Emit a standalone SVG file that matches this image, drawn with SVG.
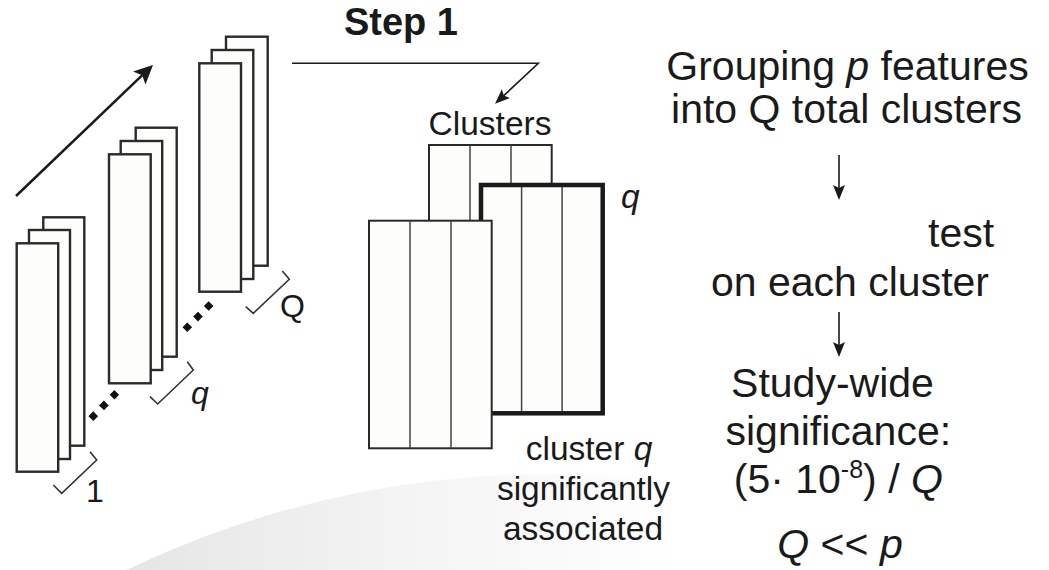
<svg xmlns="http://www.w3.org/2000/svg" width="1049" height="570" viewBox="0 0 1049 570">
  <style>
    .sheet { fill: #fdfdfb; stroke: #2a2a2a; stroke-width: 2.4; }
    .cell { fill: #fdfdfb; stroke: #2a2a2a; stroke-width: 2; }
    .cellq { fill: #fdfdfb; stroke: #1a1a1a; stroke-width: 4.5; }
    .div { stroke: #444; stroke-width: 1.5; fill: none; }
    .brace { fill: none; stroke: #333; stroke-width: 1.6; }
    .dots { fill: none; stroke: #111; stroke-width: 6.8; stroke-dasharray: 6.8 8.3; }
    .wire { fill: none; stroke: #1a1a1a; stroke-width: 1.6; }
    .wire-thick { fill: none; stroke: #1a1a1a; stroke-width: 2.5; }
    text { font-family: "Liberation Sans", Arial, Helvetica, sans-serif; fill: #1a1a1a; }
    .big { font-size: 41px; }
    .mid { font-size: 33.5px; }
    .lab { font-size: 32px; }
    .it { font-style: italic; }
    .title { font-size: 38px; font-weight: bold; }
  </style>
  <defs>
    <linearGradient id="haze" gradientUnits="userSpaceOnUse" x1="140" y1="0" x2="680" y2="0">
      <stop offset="0" stop-color="#e6e6e6"/>
      <stop offset="0.5" stop-color="#f4f4f4"/>
      <stop offset="1" stop-color="#ffffff"/>
    </linearGradient>
    <marker id="headBig" markerUnits="userSpaceOnUse" markerWidth="19" markerHeight="18" refX="10" refY="9" orient="auto">
      <path d="M0,0 L19,9 L0,18 L4,9 z" fill="#1a1a1a"/>
    </marker>
    <marker id="headSmall" markerUnits="userSpaceOnUse" markerWidth="15" markerHeight="12" refX="9" refY="6" orient="auto">
      <path d="M0,0 L15,6 L0,12 L3,6 z" fill="#1a1a1a"/>
    </marker>
  </defs>

  <!-- soft backdrop -->
  <circle cx="549" cy="1452" r="978" fill="url(#haze)"/>

  <!-- stack of feature sheets: first -->
  <g id="stack-1">
    <rect class="sheet" x="43.3" y="217.3" width="41" height="228.4"/>
    <rect class="sheet" x="29" y="230" width="41" height="229"/>
    <rect class="sheet" x="16.7" y="243.3" width="41.5" height="228.4"/>
    <path class="brace" d="M53.3,485 L61.7,493.3 L96.7,460 L90,451.7"/>
    <text class="lab" x="86" y="501.7">1</text>
  </g>

  <!-- stack q -->
  <g id="stack-q">
    <rect class="sheet" x="135.7" y="127.7" width="41" height="229"/>
    <rect class="sheet" x="120.7" y="141" width="41.5" height="229"/>
    <rect class="sheet" x="109" y="154.3" width="41.7" height="229"/>
    <path class="brace" d="M150,396.7 L157.7,404 L193.3,370 L187.3,361.7"/>
    <text class="lab it" x="191" y="404">q</text>
  </g>

  <!-- stack Q -->
  <g id="stack-Q">
    <rect class="sheet" x="226" y="36.7" width="41.7" height="229"/>
    <rect class="sheet" x="211.7" y="50" width="41.6" height="229"/>
    <rect class="sheet" x="199.3" y="63.3" width="41.7" height="228.4"/>
    <path class="brace" d="M245.7,306.7 L253.3,313.3 L289.3,279.3 L282.3,271"/>
    <text class="lab" x="280" y="316.7">Q</text>
  </g>

  <!-- ellipsis between stacks -->
  <g id="ellipses">
    <path class="dots" d="M90.9,418.6 L116.7,392.4"/>
    <path class="dots" d="M184.9,329.7 L211.4,303.2"/>
  </g>

  <!-- cluster sheets -->
  <g id="clusters">
    <text class="mid" x="490" y="135" text-anchor="middle">Clusters</text>
    <rect class="cell" x="429" y="145" width="122.7" height="160"/>
    <path class="div" d="M470,145 V305 M511,145 V305"/>
    <rect class="cellq" x="481" y="185" width="121.7" height="228.3"/>
    <path class="div" d="M521.6,187 V411 M562.1,187 V411"/>
    <rect class="cell" x="369" y="220.7" width="122.7" height="227.6"/>
    <path class="div" d="M410,220.7 V448.3 M451,220.7 V448.3"/>
    <text class="mid it" x="621" y="208">q</text>
  </g>

  <g id="note-cluster">
    <text class="mid" x="589" y="460" text-anchor="middle">cluster <tspan class="it">q</tspan></text>
    <text class="mid" x="583.5" y="500" text-anchor="middle">significantly</text>
    <text class="mid" x="583" y="540" text-anchor="middle">associated</text>
  </g>

  <g id="step-title">
    <text class="title" x="401" y="35" text-anchor="middle">Step 1</text>
  </g>

  <!-- workflow text on the right -->
  <g id="grouping">
    <text class="big" x="847.5" y="80" text-anchor="middle">Grouping <tspan class="it">p</tspan> features</text>
    <text class="big" x="846.5" y="123" text-anchor="middle">into Q total clusters</text>
  </g>
  <g id="testing">
    <text class="big" x="928" y="247">test</text>
    <text class="big" x="850" y="296" text-anchor="middle">on each cluster</text>
  </g>
  <g id="significance">
    <text class="big" x="832.5" y="397" text-anchor="middle">Study-wide</text>
    <text class="big" x="838.3" y="445" text-anchor="middle">significance:</text>
    <text class="big" x="838.3" y="493" text-anchor="middle">(5· 10<tspan font-size="25" dy="-15">-8</tspan><tspan dy="15">) / </tspan><tspan class="it">Q</tspan></text>
    <text class="big" x="840" y="558" text-anchor="middle"><tspan class="it">Q</tspan> &lt;&lt; <tspan class="it">p</tspan></text>
  </g>

  <!-- connectors -->
  <g id="connectors">
    <path class="wire-thick" d="M16,196 L146.5,71.2" marker-end="url(#headBig)"/>
    <path class="wire" d="M292,63.3 H538.3 L499.4,99.7" marker-end="url(#headSmall)"/>
    <path class="wire" d="M839,155 V194" marker-end="url(#headSmall)"/>
    <path class="wire" d="M839,312 V351" marker-end="url(#headSmall)"/>
  </g>
</svg>
